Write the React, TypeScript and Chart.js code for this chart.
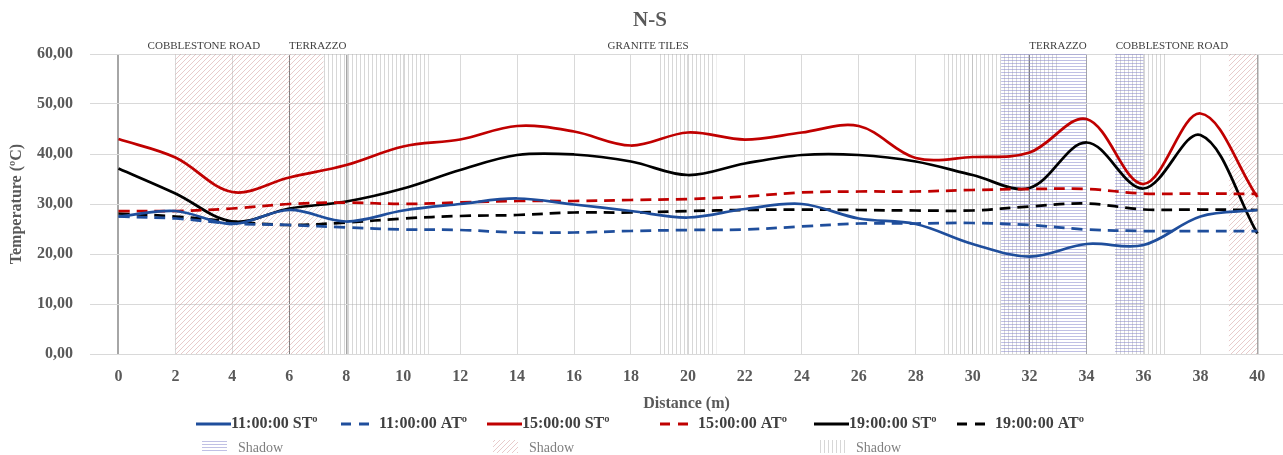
import React, { useEffect, useRef } from 'react';
import { Chart, registerables } from 'chart.js';

Chart.register(...registerables);

// ---- data ----
const distances = [0, 2, 4, 6, 8, 10, 12, 14, 16, 18, 20, 22, 24, 26, 28, 30, 32, 34, 36, 38, 40];
const st11 = [27.5, 28.6, 26.0, 28.8, 26.5, 28.7, 30.0, 31.1, 29.9, 28.6, 27.3, 29.0, 30.0, 27.1, 26.0, 22.0, 19.5, 22.0, 21.8, 27.5, 28.8];
const at11 = [27.5, 27.1, 26.1, 25.8, 25.3, 24.9, 24.8, 24.3, 24.3, 24.6, 24.8, 24.9, 25.5, 26.1, 26.1, 26.2, 25.8, 24.9, 24.6, 24.6, 24.6];
const st15 = [43.0, 39.3, 32.4, 35.3, 37.8, 41.5, 42.9, 45.6, 44.5, 41.7, 44.3, 42.9, 44.3, 45.6, 39.2, 39.4, 40.3, 47.0, 34.0, 48.1, 31.4];
const at15 = [28.6, 28.6, 29.1, 30.0, 30.3, 30.0, 30.3, 30.6, 30.6, 30.8, 31.0, 31.5, 32.3, 32.5, 32.5, 32.8, 33.0, 33.0, 32.1, 32.1, 32.0];
const st19 = [37.1, 32.1, 26.5, 29.1, 30.5, 33.1, 36.8, 39.8, 39.9, 38.5, 35.8, 38.1, 39.8, 39.8, 38.5, 35.8, 33.2, 42.3, 33.1, 43.8, 24.1];
const at19 = [28.1, 27.5, 26.5, 25.8, 26.3, 27.1, 27.6, 27.8, 28.3, 28.3, 28.6, 28.8, 28.9, 28.8, 28.7, 28.7, 29.5, 30.1, 28.9, 28.9, 28.8];

const seriesLabels = ['11:00:00 STº', '11:00:00 ATº', '15:00:00 STº', '15:00:00 ATº', '19:00:00 STº', '19:00:00 ATº'];
const xTicks = [0, 2, 4, 6, 8, 10, 12, 14, 16, 18, 20, 22, 24, 26, 28, 30, 32, 34, 36, 38, 40];
const yTicks = [0, 10, 20, 30, 40, 50, 60];

// shadow zones (distance ranges)
const redDiagonalZones = [[2, 7.2], [39, 40]];
const grayVerticalZones = [[7.2, 10.9], [19, 21], [29, 33], [35, 36.8]];
const blueHorizontalZones = [[31, 34], [35, 36]];

// surface labels
const zoneLabels = ['COBBLESTONE ROAD', 'TERRAZZO', 'GRANITE TILES', 'TERRAZZO', 'COBBLESTONE ROAD'];
const zoneLabelX = [3, 7, 18.6, 33, 37];

const darkLines = [6, 32];
const mediumLines = [0, 8, 34, 40];

const BLUE = '#1f4e9c';
const RED = '#c00000';
const BLACK = '#000000';
const FONT = '"Liberation Serif", "Times New Roman", serif';

function makePattern(kind: string): CanvasPattern | string {
  const c = document.createElement('canvas');
  const g = c.getContext('2d');
  if (!g) return 'transparent';
  if (kind === 'diag') {
    c.width = 5; c.height = 5;
    g.strokeStyle = 'rgba(205,140,140,0.45)';
    g.lineWidth = 1;
    g.beginPath();
    g.moveTo(-1, 6); g.lineTo(6, -1);
    g.moveTo(-1, 1); g.lineTo(1, -1);
    g.moveTo(4, 6); g.lineTo(6, 4);
    g.stroke();
  } else if (kind === 'vert') {
    c.width = 4; c.height = 4;
    g.fillStyle = 'rgba(175,175,175,0.5)';
    g.fillRect(0, 0, 1, 4);
  } else {
    c.width = 4; c.height = 3;
    g.fillStyle = 'rgba(140,140,205,0.55)';
    g.fillRect(0, 0, 4, 1);
  }
  return g.createPattern(c, 'repeat') || 'transparent';
}

export default function App() {
  const ref = useRef<HTMLCanvasElement | null>(null);

  useEffect(() => {
    if (!ref.current) return;
    const pDiag = makePattern('diag');
    const pVert = makePattern('vert');
    const pHorz = makePattern('horz');

    const toPts = (arr: number[]) => distances.map((d, i) => ({ x: d, y: arr[i] }));

    const shadowPlugin = {
      id: 'shadows',
      beforeDatasetsDraw(chart: any) {
        const { ctx, scales } = chart;
        const xs = scales.x, ys = scales.y;
        const top = ys.getPixelForValue(60);
        const bottom = ys.getPixelForValue(0);
        const fillZones = (zones: number[][], pat: any) => {
          ctx.fillStyle = pat;
          zones.forEach(([a, b]) => {
            const x0 = xs.getPixelForValue(a);
            const x1 = xs.getPixelForValue(b);
            ctx.fillRect(x0, top, x1 - x0, bottom - top);
          });
        };
        ctx.save();
        fillZones(grayVerticalZones, pVert);
        fillZones(blueHorizontalZones, pHorz);
        fillZones(redDiagonalZones, pDiag);
        ctx.restore();
      },
    };

    const decorPlugin = {
      id: 'decor',
      afterDraw(chart: any) {
        const { ctx, scales } = chart;
        const xs = scales.x;
        ctx.save();
        // title
        ctx.fillStyle = '#595959';
        ctx.font = `bold 21px ${FONT}`;
        ctx.textAlign = 'center';
        ctx.textBaseline = 'middle';
        ctx.fillText('N-S', 650, 21);
        // zone labels
        ctx.fillStyle = '#404040';
        ctx.font = `11px ${FONT}`;
        zoneLabels.forEach((t, i) => {
          ctx.fillText(t, xs.getPixelForValue(zoneLabelX[i]), 46);
        });
        // legend row 1
        const colors = [BLUE, BLUE, RED, RED, BLACK, BLACK];
        const cols = [196, 341, 487, 660, 814, 957];
        const rowY = 424;
        ctx.textAlign = 'left';
        ctx.font = `bold 16px ${FONT}`;
        seriesLabels.forEach((lab, i) => {
          const dashed = i % 2 === 1;
          const x0 = cols[i];
          ctx.strokeStyle = colors[i];
          ctx.lineWidth = 3;
          ctx.beginPath();
          if (dashed) {
            ctx.setLineDash([10, 8]);
            ctx.moveTo(x0, rowY); ctx.lineTo(x0 + 29, rowY);
          } else {
            ctx.setLineDash([]);
            ctx.moveTo(x0, rowY); ctx.lineTo(x0 + 35, rowY);
          }
          ctx.stroke();
          ctx.setLineDash([]);
          ctx.fillStyle = '#404040';
          ctx.fillText(lab, x0 + (dashed ? 38 : 35), rowY);
        });
        // legend row 2 (shadows)
        const pats = [pHorz, pDiag, pVert];
        const boxX = [202, 493, 820];
        ctx.font = `14px ${FONT}`;
        pats.forEach((p, i) => {
          ctx.fillStyle = p as any;
          ctx.fillRect(boxX[i], 440, 25, 13);
          ctx.fillStyle = '#7f7f7f';
          ctx.fillText('Shadow', boxX[i] + 36, 448);
        });
        ctx.restore();
      },
    };

    const tickFont = { family: FONT, size: 16, weight: 'bold' as const };

    const chart = new Chart(ref.current, {
      type: 'line',
      data: {
        datasets: [
          { label: seriesLabels[0], data: toPts(st11), borderColor: BLUE, borderWidth: 2.75 },
          { label: seriesLabels[1], data: toPts(at11), borderColor: BLUE, borderWidth: 2.75, borderDash: [11, 7] },
          { label: seriesLabels[2], data: toPts(st15), borderColor: RED, borderWidth: 2.75 },
          { label: seriesLabels[3], data: toPts(at15), borderColor: RED, borderWidth: 2.75, borderDash: [11, 7] },
          { label: seriesLabels[4], data: toPts(st19), borderColor: BLACK, borderWidth: 2.75 },
          { label: seriesLabels[5], data: toPts(at19), borderColor: BLACK, borderWidth: 2.75, borderDash: [11, 7] },
        ],
      },
      options: {
        animation: false,
        responsive: false,
        maintainAspectRatio: false,
        layout: { padding: { left: 0, right: 0, top: 54, bottom: 42 } },
        elements: {
          point: { radius: 0, hoverRadius: 0 },
          line: { tension: 0.35, fill: false, borderCapStyle: 'butt' },
        },
        plugins: {
          legend: { display: false },
          title: { display: false },
          tooltip: { enabled: false },
        },
        events: [],
        scales: {
          x: {
            type: 'linear',
            min: -1,
            max: 40.9,
            afterBuildTicks: (s: any) => { s.ticks = xTicks.map((v) => ({ value: v })); },
            afterFit: (s: any) => { s.height = 59; },
            border: { display: false },
            grid: {
              drawTicks: false,
              color: (c: any) => {
                const v = c.tick ? c.tick.value : null;
                if (darkLines.includes(v)) return '#808080';
                if (mediumLines.includes(v)) return '#a6a6a6';
                return '#d9d9d9';
              },
              lineWidth: (c: any) => {
                const v = c.tick ? c.tick.value : null;
                if (v === 0) return 2;
                if (v === 8 || v === 40) return 1.5;
                return 1;
              },
            },
            ticks: {
              padding: 13,
              autoSkip: false,
              maxRotation: 0,
              color: '#595959',
              font: tickFont,
              callback: (v: any) => String(v),
            },
            title: {
              display: true,
              text: 'Distance (m)',
              color: '#595959',
              font: tickFont,
              padding: { top: 0, bottom: 0 },
            },
          },
          y: {
            min: 0,
            max: 60,
            afterBuildTicks: (s: any) => { s.ticks = yTicks.map((v) => ({ value: v })); },
            afterFit: (s: any) => { s.width = 90; },
            border: { display: false },
            grid: { drawTicks: false, color: '#d9d9d9', lineWidth: 1 },
            ticks: {
              padding: 17,
              color: '#595959',
              font: tickFont,
              callback: (v: any) => Number(v).toFixed(2).replace('.', ','),
            },
            title: {
              display: true,
              text: 'Temperature (ºC)',
              color: '#595959',
              font: tickFont,
              padding: { top: 7, bottom: 0 },
            },
          },
        },
      },
      plugins: [shadowPlugin, decorPlugin],
    });

    return () => { chart.destroy(); };
  }, []);

  return (
    <div style={{ position: 'fixed', left: 0, top: 0, width: 1283, height: 455, background: '#ffffff' }}>
      <canvas ref={ref} width={1283} height={455} style={{ display: 'block', width: 1283, height: 455 }} />
    </div>
  );
}
